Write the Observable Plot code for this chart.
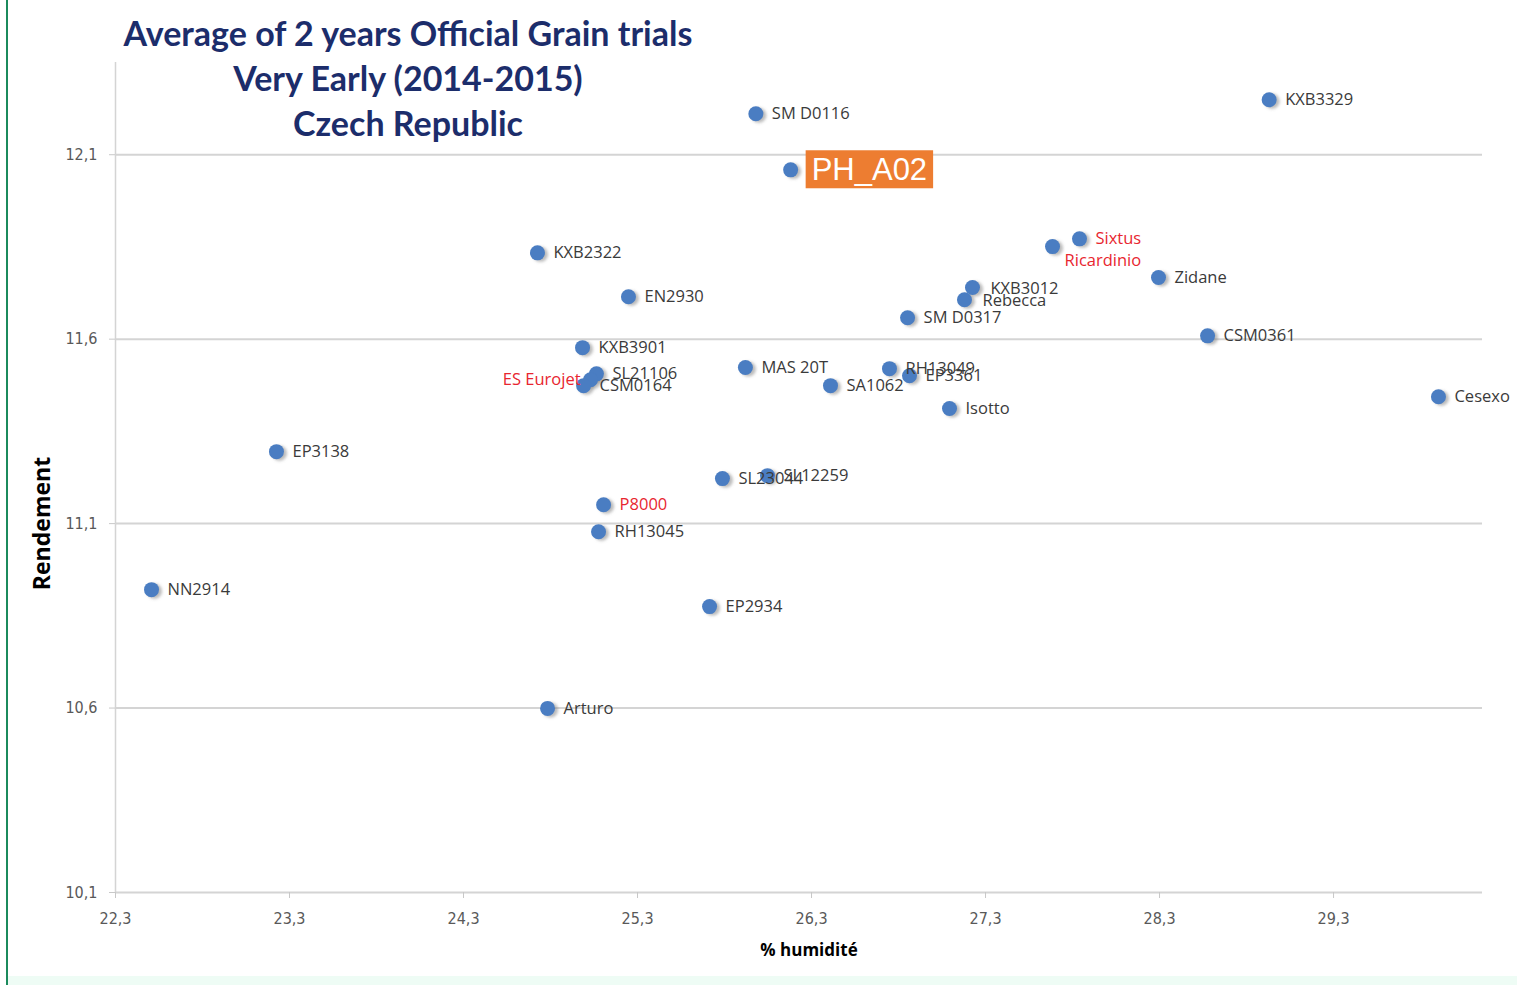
<!DOCTYPE html>
<html>
<head>
<meta charset="utf-8">
<script src="https://cdn.jsdelivr.net/npm/d3@7"></script>
<script src="https://cdn.jsdelivr.net/npm/@observablehq/plot@0.6"></script>
<style>
  html, body { margin: 0; padding: 0; background: #fff; }
  #wrap { position: relative; width: 1517px; height: 985px; overflow: hidden; }
  #title { position: absolute; left: 98px; top: 10px; width: 620px; text-align: center;
           font-family: Lato, "Open Sans", sans-serif; font-weight: bold; font-size: 34px;
           line-height: 45px; color: #1c2d6b; z-index: 2; }
  #greenline { position: absolute; left: 6px; top: 0; width: 2px; height: 985px; background: #1b8a5c; }
  #band { position: absolute; left: 8px; top: 976px; width: 1509px; height: 9px; background: #eefcf5; }
  #chart { position: absolute; left: 0; top: 0; }
</style>
</head>
<body>
<div id="wrap">
  <div id="chart"></div>
  <div id="title">Average of 2 years Official Grain trials<br>Very Early (2014-2015)<br>Czech Republic</div>
  <div id="greenline"></div>
  <div id="band"></div>
</div>
<script>
// Variety names
const varieties = ["KXB3329","SM D0116","PH_A02","KXB2322","EN2930","Sixtus","Ricardinio","Zidane",
  "KXB3012","Rebecca","SM D0317","CSM0361","KXB3901","SL21106","ES Eurojet","CSM0164","MAS 20T",
  "RH13049","EP3361","SA1062","Isotto","Cesexo","EP3138","SL23044","SL12259","P8000","RH13045",
  "NN2914","EP2934","Arturo"];
// % humidité
const humidity = [28.93,25.98,26.18,24.725,25.248,27.84,27.685,28.294,
  27.225,27.179,26.852,28.576,24.984,25.064,25.03,24.99,25.92,
  26.748,26.863,26.409,27.093,29.903,23.225,25.788,26.047,25.105,25.076,
  22.507,25.714,24.783];
// Rendement
const yieldValues = [12.249,12.211,12.059,11.834,11.715,11.872,11.851,11.767,
  11.740,11.707,11.658,11.609,11.577,11.506,11.490,11.474,11.523,
  11.520,11.501,11.474,11.412,11.444,11.295,11.222,11.230,11.151,11.078,
  10.921,10.875,10.599];
// Axis ticks
const xTicks = [22.3,23.3,24.3,25.3,26.3,27.3,28.3,29.3];
const yTicks = [10.1,10.6,11.1,11.6,12.1];
// Reference varieties (red labels) and highlighted variety
const referenceVarieties = ["Sixtus","Ricardinio","ES Eurojet","P8000"];
const highlighted = "PH_A02";

const data = varieties.map((name, i) => ({name, x: humidity[i], y: yieldValues[i]}));
const fmt = d => d.toFixed(1).replace(".", ",");

const normal = data.filter(d => d.name !== highlighted && !referenceVarieties.includes(d.name)
  && d.name !== "Rebecca" && d.name !== "KXB3012");
const tickFont = "'Liberation Sans Narrow', 'DejaVu Sans Condensed', sans-serif";
const labelFont = "'Open Sans', sans-serif";
const LS = 16.5;

const chart = Plot.plot({
  width: 1517,
  height: 975,
  marginLeft: 115,
  marginRight: 35,
  marginTop: 62,
  marginBottom: 83,
  x: {domain: [22.3, 30.156]},
  y: {domain: [10.1, 12.35]},
  style: {fontFamily: tickFont, fontSize: "16px", background: "transparent"},
  marks: [
    Plot.ruleY(yTicks, {stroke: "#d4d4d4", strokeWidth: 2}),
    Plot.ruleX([22.3], {stroke: "#d4d4d4", strokeWidth: 1.5}),
    Plot.axisY({ticks: yTicks, tickFormat: fmt, tickSize: 6, tickPadding: 12, stroke: "#c8c8c8", fill: "#595959", label: null}),
    Plot.axisX({ticks: xTicks, tickFormat: fmt, tickSize: 6, tickPadding: 14, stroke: "#c8c8c8", fill: "#595959", label: null}),
    Plot.text(["Rendement"], {frameAnchor: "left", textAnchor: "middle", dx: -73, dy: 46, rotate: -90, fontFamily: labelFont, fontWeight: "bold", fontSize: 23, fill: "#000"}),
    Plot.text(["% humidité"], {frameAnchor: "bottom", dx: 10, dy: 63, fontFamily: labelFont, fontWeight: "bold", fontSize: 17, fill: "#000"}),
    // dot shadows
    Plot.dot(data, {x: "x", y: "y", r: 7.5, dx: 3, dy: 1.5, fill: "#777", fillOpacity: 0.5, ariaDescription: "shadow"}),
    Plot.dot(data, {x: "x", y: "y", r: 7.5, fill: "#4a7dc2"}),
    // labels
    Plot.text(normal, {x: "x", y: "y", text: "name", dx: 16, textAnchor: "start", fontFamily: labelFont, fontSize: LS, fill: "#3a3a3a"}),
    Plot.text(data.filter(d => d.name === "Rebecca" || d.name === "KXB3012"), {x: "x", y: "y", text: "name", dx: 18, dy: 1, textAnchor: "start", fontFamily: labelFont, fontSize: LS, fill: "#3a3a3a"}),
    Plot.text(data.filter(d => d.name === "Sixtus" || d.name === "P8000"), {x: "x", y: "y", text: "name", dx: 16, textAnchor: "start", fontFamily: labelFont, fontSize: LS, fill: "#e8262f"}),
    Plot.text(data.filter(d => d.name === "Ricardinio"), {x: "x", y: "y", text: "name", dx: 12, dy: 14, textAnchor: "start", fontFamily: labelFont, fontSize: LS, fill: "#e8262f"}),
    Plot.text(data.filter(d => d.name === "ES Eurojet"), {x: "x", y: "y", text: "name", dx: -10, textAnchor: "end", fontFamily: labelFont, fontSize: LS, fill: "#e8262f"}),
    Plot.text(data.filter(d => d.name === highlighted), {x: "x", y: "y", text: "name", dx: 21, textAnchor: "start", fontFamily: "'Liberation Sans', Arial, sans-serif", fontSize: 31, fill: "#fff", ariaDescription: "highlight"})
  ]
});
document.getElementById("chart").appendChild(chart);

// blur filter for shadows
const svg = d3.select(chart);
const defs = svg.insert("defs", ":first-child");
defs.append("filter").attr("id", "shadowblur").attr("x", "-50%").attr("y", "-50%").attr("width", "200%").attr("height", "200%")
  .append("feGaussianBlur").attr("stdDeviation", 1.6);
svg.select("g[aria-description='shadow']").attr("filter", "url(#shadowblur)");

// orange box behind highlighted label
const hl = svg.select("g[aria-description='highlight']");
hl.selectAll("text").each(function() {
  const b = this.getBBox();
  const tr = this.getAttribute("transform");
  const rect = document.createElementNS("http://www.w3.org/2000/svg", "rect");
  rect.setAttribute("x", b.x - 6);
  rect.setAttribute("y", b.y + b.height / 2 - 19);
  rect.setAttribute("width", b.width + 12);
  rect.setAttribute("height", 38);
  rect.setAttribute("fill", "#ed7d31");
  if (tr) rect.setAttribute("transform", tr);
  this.parentNode.insertBefore(rect, this);
});
</script>
</body>
</html>
